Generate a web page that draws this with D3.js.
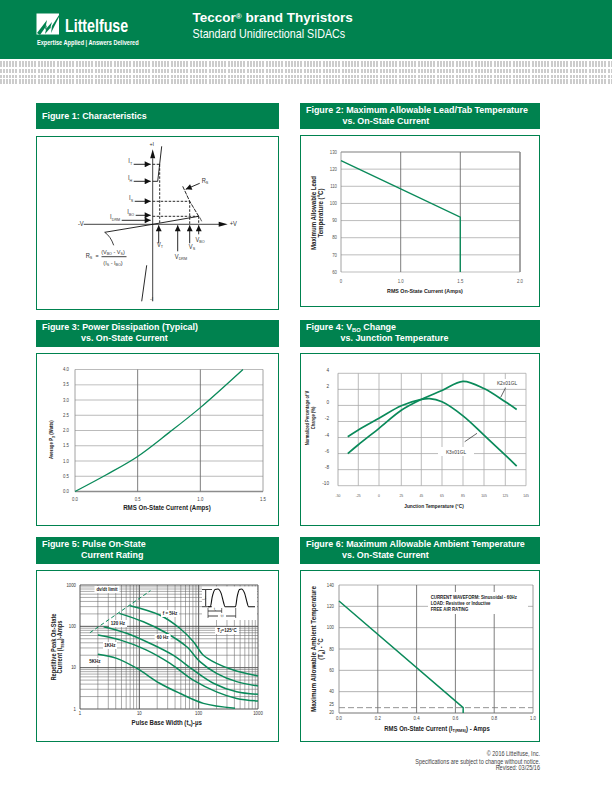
<!DOCTYPE html>
<html><head><meta charset="utf-8"><script src="https://cdnjs.cloudflare.com/ajax/libs/d3/7.8.5/d3.min.js"></script>
<style>html,body{margin:0;padding:0;background:#fff}svg{display:block}text{font-family:"Liberation Sans",Arial,sans-serif}</style></head><body><svg id="page" width="612" height="792"></svg>
<script>
const GREEN="#00824f", CURVE="#0a8a5a", GRID="#a9a9a9", DARK="#6f6f6f", INK="#222";
// Figure 2
const fig2Current=[0,1.0,1.5,1.5], fig2Temp=[125,108.5,92,60];
const fig2YTicks=[60,70,80,90,100,110,120,130], fig2XTicks=[0,1.0,1.5,2.0];
// Figure 3
const fig3Current=[0,0.25,0.5,0.75,1.0,1.34], fig3Power=[0,0.55,1.15,1.93,2.75,4.0];
const fig3YTicks=[0,0.5,1,1.5,2,2.5,3,3.5,4], fig3XTicks=[0,0.5,1,1.5];
// Figure 4
const fig4XTicks=[-50,-25,0,25,45,65,85,105,125,145], fig4YTicks=[4,2,0,-2,-4,-6,-8,-10];
const fig4Temp2=[-38,-25,0,25,45,65,85,105,125,136], fig4K2=[-6,-4.9,-2.85,-0.6,0.75,1.85,3,2.1,0.45,-0.5];
const fig4Temp3=[-38,-25,0,25,45,53,65,85,105,125,136], fig4K3=[-3.9,-3.05,-1.6,-0.05,0.75,0.85,0.45,-1.3,-3.7,-6.2,-7.55];
// Figure 5
const fig5Dvdt=[[1.47,70],[15.4,730]];
const fig5F5=[[7,316],[22,188],[48,90],[81,43],[120,20],[200,12.7],[383,8.8],[1000,6.3]];
const fig5F60=[[4.6,206],[11.7,129],[29,68],[63,32],[105,14],[200,7.3],[437,4.6],[1000,3.6]];
const fig5F120=[[2.5,98],[6.1,68],[15,39],[37,20],[81,8.8],[177,4.2],[437,2.6],[1000,2.27]];
const fig5F1k=[[2,62],[4.7,47],[13,27],[33,12.7],[81,5],[200,2.6],[437,1.8],[1000,1.56]];
const fig5F5k=[[2,21],[4.15,16.8],[9,9.7],[22,4.2],[48,2.4],[120,1.37],[410,1.04]];
const fig5YMajor=[1,10,100,1000], fig5XMajor=[1,10,100,1000];
const fig5Wave=[[0,0],[.05,0],[.09,.55],[.15,.97],[.21,1],[.28,.75],[.33,.25],[.36,0],[.585,0],[.62,.55],[.67,.97],[.71,1],[.78,.75],[.83,.25],[.86,0],[1,0]];
// Figure 6
const fig6Current=[0,0.64,0.64], fig6Temp=[125,25,20];
const fig6YTicks=[20,40,60,80,100,120,140], fig6XTicks=[0,0.2,0.4,0.6,0.8,1.0];
const fig6Limit=[25];
const fig6Note=["CURRENT WAVEFORM: Sinusoidal - 60Hz","LOAD: Resistive or Inductive","FREE AIR RATING"];
// Figure 1, diagram in volts / amps style units
const fig1Forward=[[-48,-8],[0,0],[46,8]], fig1Neg=[[46,8],[37,23],[30,38]];
const fig1Upper=[[0,43],[5,43],[9,78]], fig1Lower=[[-11,-77],[-6,-41]];
const fig1Levels=[{n:"I",s:"T",y:60,from:-19},{n:"I",s:"H",y:43,from:-19},{n:"I",s:"S",y:23,from:-18},{n:"I",s:"BO",y:9,from:-17},{n:"I",s:"DRM",y:4,from:-31}];
const fig1VArrows=[{s:"T",x:6,len:19},{s:"DRM",x:25,len:27},{s:"S",x:37,len:19},{s:"BO",x:46,len:10}];

const svg=d3.select("#page");
const T=(x,y,t,o={})=>{
 const sx=o.sx||0.9,size=o.size||5;
 const e=svg.append("text").attr("x",x).attr("y",y).attr("fill",o.fill||INK).attr("font-size",size).attr("text-anchor",o.anchor||"middle").attr("font-weight",o.bold?"bold":null);
 e.attr("transform",`translate(${x} ${y}) rotate(${o.rot||0}) scale(${sx} 1) translate(${-x} ${-y})`);
 const parts=o.parts||(o.sub?[[t,0],[o.sub,1],[o.after||"",0]]:[[t,0]]);
 let low=false;
 parts.forEach(p=>{if(p[0]==="")return;const s=e.append("tspan").text(p[0]);
  if(p[1]){s.attr("font-size",size*.65);if(!low){s.attr("dy",1.5);low=true;}}
  else if(low){s.attr("dy",-1.5);low=false;}});
 return e;};

// page header
svg.append("rect").attr("width",612).attr("height",59).attr("fill",GREEN);
const defs=svg.append("defs");
const pat=defs.append("pattern").attr("id","dots").attr("width",19).attr("height",24).attr("patternUnits","userSpaceOnUse").attr("patternTransform","translate(0 60)");
[[1,6],[9,4],[15,3],[19,5]].forEach(r=>d3.range(0,18,3).forEach(i=>pat.append("rect").attr("x",i).attr("y",r[0]).attr("width",2).attr("height",r[1]).attr("fill","#cccccc")));
svg.append("rect").attr("y",60).attr("width",612).attr("height",24).attr("fill","url(#dots)");
svg.append("rect").attr("x",36.5).attr("y",13.5).attr("width",22.5).attr("height",21).attr("fill","#fff");
svg.append("path").attr("d","M37 33 L47 20 L45 30 L52 22 L50 29 L59 15 L59 17 L51 33 L52 26 L45 34 L47 25 L40 35Z").attr("fill",GREEN);
T(65,32,"Littelfuse",{fill:"#fff",size:18,bold:true,anchor:"start",sx:.79});
T(37,45,"Expertise Applied  |  Answers Delivered",{fill:"#fff",size:6.3,bold:true,anchor:"start",sx:.89});
const h1=svg.append("text").attr("x",192.5).attr("y",22).attr("fill","#fff").attr("font-size",13.5).attr("font-weight","bold");
h1.append("tspan").text("Teccor");h1.append("tspan").attr("font-size",8).attr("dy",-3.5).text("®");h1.append("tspan").attr("dy",3.5).text(" brand Thyristors");
T(192.5,38,"Standard Unidirectional SIDACs",{fill:"#fff",size:12.5,anchor:"start",sx:.86});

// panels
const panel=(x,y,w,h,boxY,boxH,l1,l2,indent,sub)=>{
 svg.append("rect").attr("x",x).attr("y",y).attr("width",w).attr("height",h).attr("fill",GREEN);
 svg.append("rect").attr("x",x+.5).attr("y",boxY+.5).attr("width",w-1).attr("height",boxH).attr("fill","#fff").attr("stroke",GREEN);
 const ly=l2?y+10.5:y+16;
 T(x+6,ly,l1,{fill:"#fff",size:9.6,bold:true,anchor:"start",sx:.93,sub:sub&&sub.s,after:sub&&sub.a});
 if(l2)T(x+indent,y+21.5,l2,{fill:"#fff",size:9.6,bold:true,anchor:"start",sx:.93});
};
panel(36,103,243,26,136,173,"Figure 1: Characteristics");
panel(300,103,240,26,135,171,"Figure 2: Maximum Allowable Lead/Tab Temperature","vs. On-State Current",42.5);
panel(36,320,243,27,353,172,"Figure 3: Power Dissipation (Typical)","vs. On-State Current",45);
panel(300,320,240,27,353,172,"Figure 4: V","vs. Junction Temperature",40.5,{s:"BO",a:" Change"});
panel(36,537,243,27,570,171,"Figure 5: Pulse On-State","Current Rating",45);
panel(300,537,240,27,570,171,"Figure 6: Maximum Allowable Ambient Temperature","vs. On-State Current",42);

const lineG=(pts,xs,ys,w=1.6,col=CURVE,curve=d3.curveLinear)=>svg.append("path").attr("d",d3.line().x(d=>xs(d[0])).y(d=>ys(d[1])).curve(curve)(pts)).attr("fill","none").attr("stroke",col).attr("stroke-width",w);
const hl=(x1,x2,y,c,w=.8,dash)=>svg.append("line").attr("x1",x1).attr("x2",x2).attr("y1",y).attr("y2",y).attr("stroke",c).attr("stroke-width",w).attr("stroke-dasharray",dash||null);
const vl=(x,y1,y2,c,w=.8,dash)=>svg.append("line").attr("x1",x).attr("x2",x).attr("y1",y1).attr("y2",y2).attr("stroke",c).attr("stroke-width",w).attr("stroke-dasharray",dash||null);
const zip=(a,b)=>a.map((d,i)=>[d,b[i]]);

// Figure 1
{const x=d3.scaleLinear().domain([-70,75]).range([82.7,227.7]),y=d3.scaleLinear().domain([-77,78]).range([301.3,146.3]);
 const black="#111",tc="#333";
 const mk=defs.append("marker").attr("id","ah").attr("viewBox","0 0 10 10").attr("refX",10).attr("refY",5).attr("markerWidth",9).attr("markerHeight",6).attr("markerUnits","userSpaceOnUse").attr("orient","auto");
 mk.append("path").attr("d","M0 0L10 5L0 10Z").attr("fill",black);
 const seg=(a,b,w=.8,dash,head)=>{const l=svg.append("line").attr("x1",x(a[0])).attr("y1",y(a[1])).attr("x2",x(b[0])).attr("y2",y(b[1])).attr("stroke",black).attr("stroke-width",w);if(dash)l.attr("stroke-dasharray",dash);if(head)l.attr("marker-end","url(#ah)");};
 seg([-69,0],[67,0],.8);
 svg.append("path").attr("d",`M${x(66)} ${y(0)-2.5}L${x(75)} ${y(0)}L${x(66)} ${y(0)+2.5}Z`).attr("fill",black);
 seg([0,-77],[0,66],.8);
 svg.append("path").attr("d",`M${x(0)-2.5} ${y(66)}L${x(0)} ${y(75)}L${x(0)+2.5} ${y(66)}Z`).attr("fill",black);
 lineG(fig1Forward,x,y,.9,black);lineG(fig1Neg,x,y,.9,black).attr("stroke-dasharray","4 1");
 lineG(fig1Upper,x,y,.9,black);lineG(fig1Lower,x,y,.9,black);
 seg([0,60],[7,60],.9,"2.5 1.5");seg([7,60],[7,0],.9,"2.5 1.5");
 seg([0,23],[37,23],.9,"2.5 1.5");seg([37,23],[37,0],.9,"2.5 1.5");
 seg([0,8],[46,8],.9,"2.5 1.5");seg([46,8],[46,0],.9,"2.5 1.5");
 seg([49,3],[47,7],.7);
 seg([47,41],[33,35],.9,null,true);
 svg.append("path").attr("d",`M${x(-48)} ${y(-8)}Q${x(-42)} ${y(-12)} ${x(-39)} ${y(-21)}`).attr("fill","none").attr("stroke",black).attr("stroke-width",.8);
 fig1Levels.forEach(l=>{seg([l.from,l.y],[-2,l.y],.9,null,true);T(x(l.from)-1.5,y(l.y)-1,l.n,{anchor:"end",size:6.4,sub:l.s,fill:tc});});
 fig1VArrows.forEach(a=>seg([a.x,-a.len],[a.x,-1],.9,null,true));
 T(160,247,"V",{size:6.4,sub:"T",fill:tc});T(181,259,"V",{size:6.4,sub:"DRM",fill:tc});T(192,249,"V",{size:6.4,sub:"S",fill:tc});T(200,242,"V",{size:6.4,sub:"BO",fill:tc});
 T(x(-1),146,"+I",{size:6,fill:tc});T(x(-1),301,"-I",{size:6,fill:tc});
 T(x(-69),y(0)+2,"-V",{size:6.4,anchor:"end",fill:tc});T(x(77),y(0)+2,"+V",{size:6.4,anchor:"start",fill:tc});
 T(x(49),183,"R",{size:6.4,anchor:"start",sub:"S",fill:tc});
 T(89,258,"R",{size:6.4,sub:"S",fill:tc});T(97,258,"=",{size:6,fill:tc});
 T(113,254,"",{size:6.2,fill:tc,parts:[["(V",0],["BO",1],[" - V",0],["S",1],[")",0]]});
 T(113,265,"",{size:6.2,fill:tc,parts:[["(I",0],["S",1],[" - I",0],["BO",1],[")",0]]});
 hl(101.5,126.5,256.7,black,.8);
}
// Figure 2
{const x=d3.scaleLinear().domain(fig2XTicks).range([341,400.7,460.3,520]),y=d3.scaleLinear().domain([60,130]).range([272,152]);
 fig2YTicks.forEach(t=>{hl(x(0),x(2),y(t),t==130?GRID:"#b5b5b5",t==130?1.4:.9);T(x(0)-4,y(t)+1.7,t,{anchor:"end",size:4.8,fill:"#555"});});
 [1,1.5].forEach(t=>vl(x(t),y(130),y(60),DARK,.9));vl(x(0),y(130),y(60),"#8c8c8c",.8);vl(x(2),y(130),y(60),"#8c8c8c",1.6);
 fig2XTicks.forEach(t=>T(x(t),283,t?t.toFixed(1):"0",{size:4.8,fill:"#555"}));
 lineG(zip(fig2Current,fig2Temp),x,y,1.3);
 T(425,293,"RMS On-State Current (Amps)",{size:5.9,bold:true});
 T(316.5,213,"Maximum Allowable Lead",{size:6.3,bold:true,rot:-90,sx:.97});T(323.5,213,"Temperature (°C)",{size:6.3,bold:true,rot:-90,sx:.97});
}
// Figure 3
{const x=d3.scaleLinear().domain([0,1.5]).range([75,263]),y=d3.scaleLinear().domain([0,4]).range([491.5,369.5]);
 fig3YTicks.forEach(t=>{hl(x(0),x(1.5),y(t),t==3.5?"#d5d5d5":(t==0?"#8c8c8c":GRID),(t==3.5||t==0)?1.3:.8);T(x(0)-6,y(t)+1.7,t.toFixed(1),{anchor:"end",size:4.8,fill:"#444"});});
 [.5,1].forEach(t=>vl(x(t),y(4),y(0),DARK,.9));[0,1.5].forEach(t=>vl(x(t),y(4),y(0),"#8c8c8c",.8));
 fig3XTicks.forEach(t=>T(x(t),501,t.toFixed(1),{size:4.8,fill:"#444"}));
 lineG(zip(fig3Current,fig3Power),x,y,1.3,CURVE,d3.curveCatmullRom);
 T(167,510,"RMS On-State Current (Amps)",{size:6.4,bold:true,sx:.96});
 T(53.5,439.6,"Average P",{size:6.2,bold:true,rot:-90,sub:"D",after:" (Watts)",sx:.7});
}
// Figure 4
{const xp=[338,358.3,379,401.3,421.3,442,463,484,505.3,526];
 const x=d3.scaleLinear().domain(fig4XTicks).range(xp),y=d3.scaleLinear().domain([4,-10]).range([373.3,485.7]);
 fig4YTicks.forEach(t=>{hl(338,526,y(t),GRID,.8);T(329,y(t)-1,t,{size:5.2,fill:"#444",anchor:"end"});});
 fig4XTicks.forEach(t=>{vl(x(t),y(4),y(-10),t==-50?"#999":GRID,.8);T(x(t),497,t,{size:3.8,fill:"#555"});});
 lineG(zip(fig4Temp2,fig4K2),x,y,1.7,CURVE,d3.curveCatmullRom);
 lineG(zip(fig4Temp3,fig4K3),x,y,1.7,CURVE,d3.curveCatmullRom);
 svg.append("rect").attr("x",492).attr("y",379).attr("width",31).attr("height",8).attr("fill","#fff");
 svg.append("rect").attr("x",438).attr("y",447).attr("width",36).attr("height",9).attr("fill","#fff");
 T(507,385,"K2x01GL",{size:5.4,fill:"#333"});T(456,454,"K3x01GL",{size:5.4,fill:"#333"});
 svg.append("line").attr("x1",505.3).attr("y1",388.3).attr("x2",500.7).attr("y2",397.3).attr("stroke","#222").attr("stroke-width",.7);
 svg.append("line").attr("x1",477).attr("y1",433.3).attr("x2",464.7).attr("y2",441.7).attr("stroke","#222").attr("stroke-width",.7);
 T(434,508,"Junction Temperature (°C)",{size:5.3,bold:true});
 T(309.5,418,"Normalized Percentage of V",{size:4.6,bold:true,rot:-90});T(315.5,418,"Change (%)",{size:4.6,bold:true,rot:-90});
}
// Figure 5
{const x=d3.scaleLog().domain([1,1000]).range([80,258]),y=d3.scaleLog().domain([1,1000]).range([709,585]);
 [1,10,100].forEach(d=>{for(let m=1;m<10;m++){hl(80,258,y(d*m),m==1?"#444":"#666",m==1?.9:.55);vl(x(d*m),585,709,m==1?"#444":"#666",m==1?.9:.55);}});
 hl(80,258,585,"#444",.9);vl(258,585,709,"#444",.9);
 fig5YMajor.forEach(t=>T(76,y(t)+1.7,t,{anchor:"end",size:4.8,fill:"#333"}));
 fig5XMajor.forEach(t=>T(x(t),715,t,{size:4.8,fill:"#333"}));
 svg.append("rect").attr("x",202).attr("y",586.5).attr("width",55).attr("height",33.5).attr("fill","#fff");
 [fig5F5,fig5F60,fig5F120,fig5F1k,fig5F5k].forEach(s=>lineG(s,x,y,1.5,CURVE,d3.curveCatmullRom));
 lineG(fig5Dvdt,x,y,1,CURVE).attr("stroke-dasharray","4 2.5");
 const lbl=(px,py,t,w,sub,after)=>{svg.append("rect").attr("x",px-w/2).attr("y",py-5).attr("width",w).attr("height",7).attr("fill","#fff");T(px,py,t,{size:5,fill:"#222",bold:true,sub,after});};
 lbl(107,591,"dv/dt limit",25);lbl(170,615,"f = 5Hz",18);lbl(118,625,"120 Hz",18);lbl(162.6,639,"60 Hz",16);lbl(110,647,"1KHz",14);lbl(95,663,"5KHz",14);lbl(227,632,"T",24,"J","=125°C");
 const ix=d3.scaleLinear().domain([0,1]).range([208,255]),iy=d3.scaleLinear().domain([0,1]).range([606.7,589]);
 lineG(fig5Wave,ix,iy,1.1,"#111",d3.curveMonotoneX);
 vl(205.7,590,606,"#111",.9);hl(202,212,589.5,"#111",.8);hl(202,212,606.7,"#111",.8);
 T(204.7,598,"I",{size:3.6,sub:"TM",fill:"#111",rot:-90});
 hl(208,221.7,611,"#111",.8);hl(208,235.7,616,"#111",.8);vl(208,608,618,"#111",.6);vl(221.7,608,613,"#111",.6);vl(235.7,608,618,"#111",.6);
 svg.append("rect").attr("x",218).attr("y",613.5).attr("width",8).attr("height",5).attr("fill","#fff");
 T(215,610,"t",{size:3.6,sub:"0",fill:"#111"});T(222,617.5,"t,t",{size:3.6,fill:"#111"});
 T(166.7,725,"Pulse Base Width (t",{size:6.3,bold:true,sub:"o",after:")-µs",sx:.97});
 T(56,647,"Repetitive Peak On-State",{size:6.3,bold:true,rot:-90});T(62.5,647,"Current (I",{size:6.3,bold:true,rot:-90,sub:"TSM",after:")-Amps"});
}
// Figure 6
{const x=d3.scaleLinear().domain([0,1]).range([339,533]),y=d3.scaleLinear().domain([20,140]).range([713,585]);
 fig6YTicks.forEach(t=>{hl(x(0),x(1),y(t),t==20?"#777":GRID,t==20?1.2:.9);T(334,t==20?714:y(t)+1.7,t,{anchor:"end",size:4.8,fill:"#444"});});
 T(334,706,"25",{anchor:"end",size:4.8,fill:"#444"});
 hl(x(0),x(1),y(fig6Limit[0]),"#777",.8,"6 3");
 fig6XTicks.forEach(t=>{vl(x(t),y(140),y(20),(t==0||t==1)?"#8c8c8c":DARK,.9);T(x(t),720.5,t.toFixed(1),{size:4.8,fill:"#444"});});
 lineG(zip(fig6Current,fig6Temp),x,y,1.5);
 svg.append("rect").attr("x",428).attr("y",592).attr("width",100).attr("height",22).attr("fill","#fff");
 fig6Note.forEach((t,i)=>T(430.7,599+i*6,t,{size:5,bold:true,anchor:"start",sx:.87}));
 T(437,731,"RMS On-State Current (I",{size:6.3,bold:true,sub:"T(RMS)",after:") - Amps",sx:.95});
 T(316,649,"Maximum Allowable Ambient Temperature",{size:6.3,bold:true,rot:-90,sx:1});T(323.5,649,"(T",{size:6.3,bold:true,rot:-90,sub:"A",after:") - °C"});
}
// footer
[["© 2016 Littelfuse, Inc.",756],["Specifications are subject to change without notice.",764],["Revised: 03/25/16",770.5]].forEach(d=>T(540,d[1],d[0],{anchor:"end",size:6.3,fill:"#444",sx:.875}));
</script></body></html>
